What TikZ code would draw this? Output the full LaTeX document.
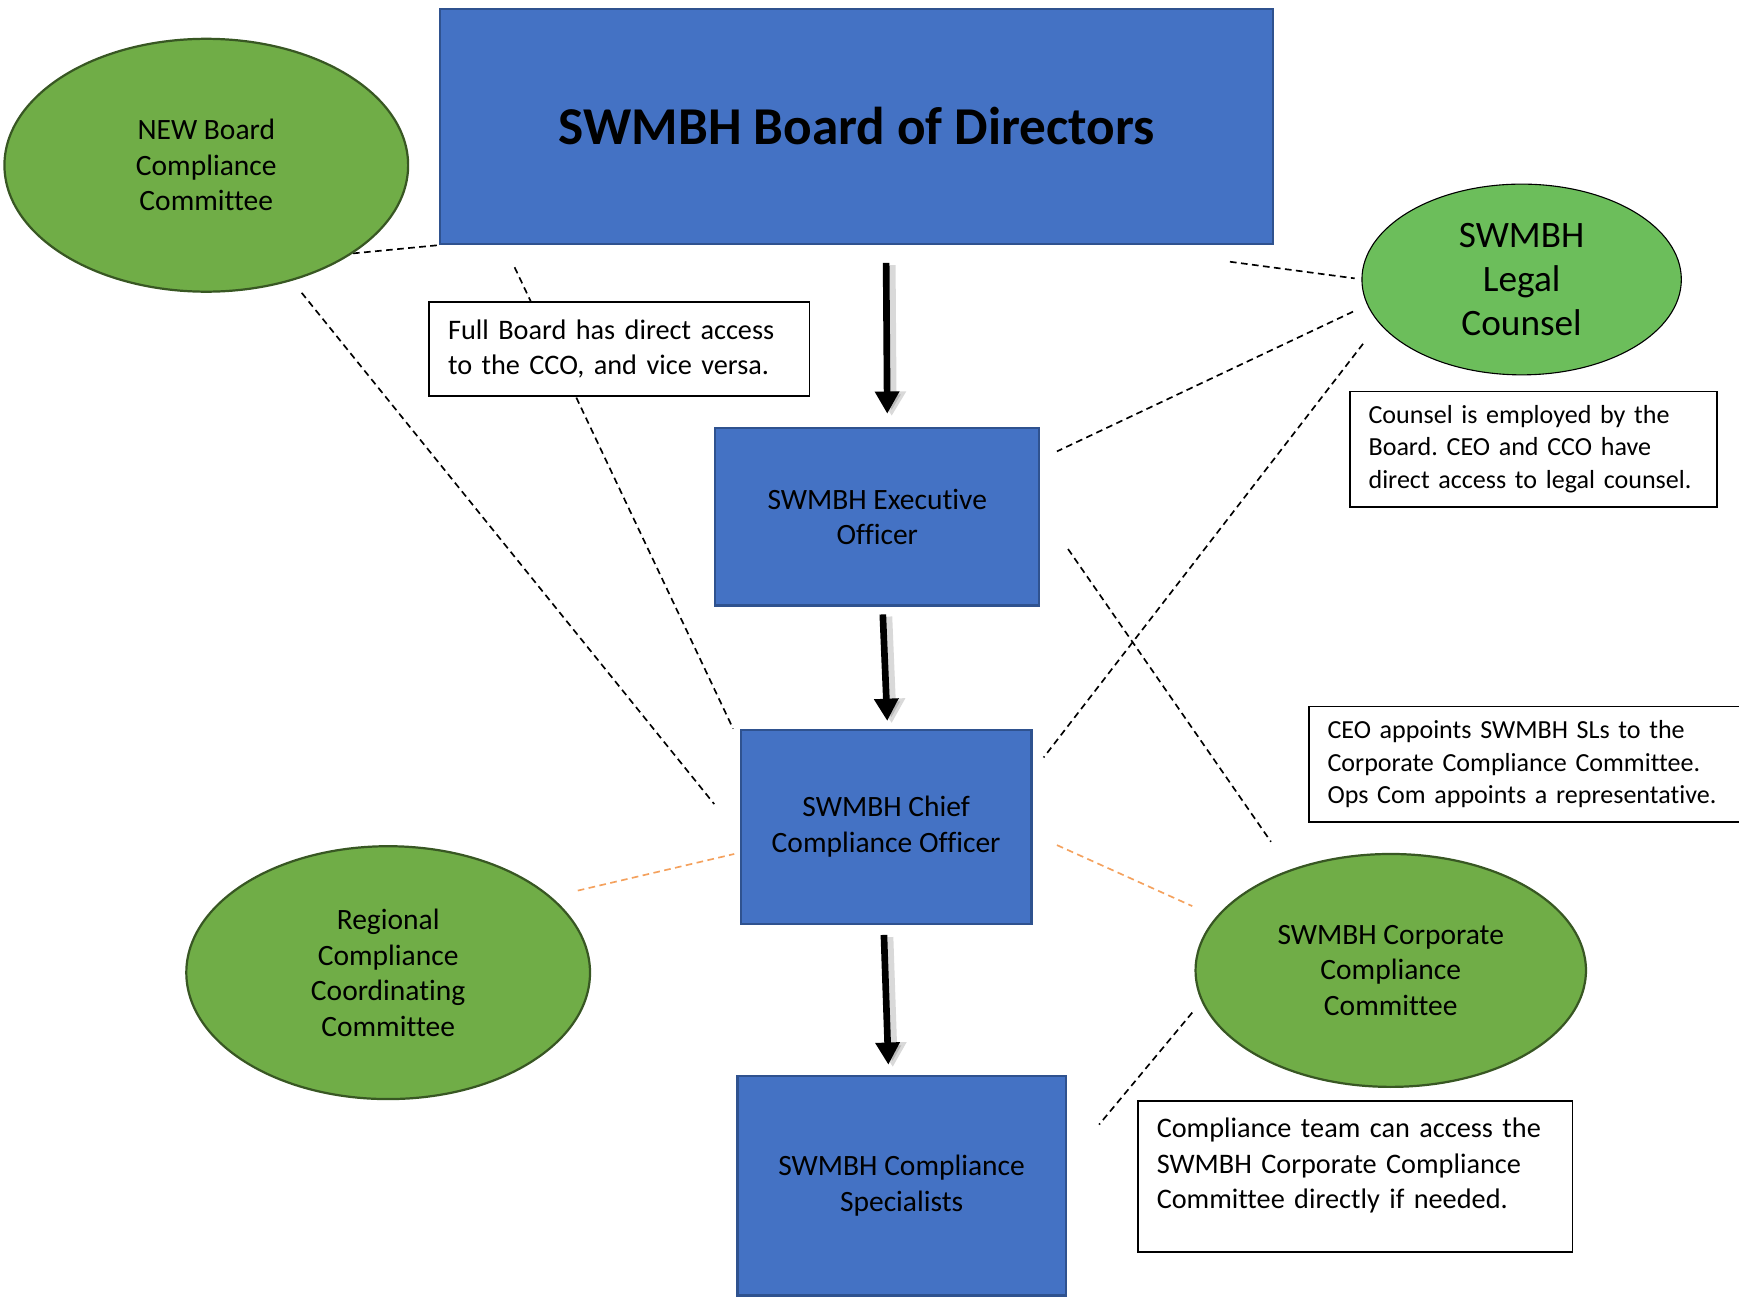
\documentclass[tikz,border=0pt]{standalone}
\usepackage{fontspec}
\setmainfont{Carlito}[Ligatures={NoCommon}]
\usetikzlibrary{shapes.geometric,arrows.meta,calc}
\pgfdeclarelayer{background}
\pgfsetlayers{background,main}
\definecolor{boxblue}{HTML}{4472C4}
\definecolor{boxedge}{HTML}{2F528F}
\definecolor{grn}{HTML}{70AD47}
\definecolor{grnedge}{HTML}{385723}
\definecolor{legalgrn}{HTML}{6CBE5B}
\definecolor{linkorange}{HTML}{F4A15D}
\tikzset{
  txt/.style={font=\fontsize{26.6}{32}\selectfont},
  notetxt/.style={font=\fontsize{25.5}{32}\selectfont},
  smalltxt/.style={font=\fontsize{23.5}{29}\selectfont},
  bluebox/.style={txt, rectangle, draw=boxedge, fill=boxblue, line width=2pt, align=center, inner sep=0pt},
  greenell/.style={txt, ellipse, draw=grnedge, fill=grn, line width=2pt, inner sep=0pt, align=center},
  notebox/.style={rectangle, draw=black, fill=white, line width=1.5pt, align=left, inner xsep=17pt, inner ysep=0pt},
  link/.style={draw=black, line width=1.5pt, dash pattern=on 6pt off 4pt},
  orangelink/.style={link, draw=linkorange},
  flow/.style={draw=black, line width=6pt, -{Triangle[width=21pt,length=20pt]}},
  flowshadow/.style={flow, draw=black, opacity=0.15, line width=9pt, -{Triangle[width=25pt,length=22pt]}}
}
\frenchspacing
\begin{document}
\begin{tikzpicture}[x=1pt,y=-1pt]
\useasboundingbox (0,0) rectangle (1568,1170);

% main boxes
\node[bluebox, minimum width=751pt, minimum height=212pt, font=\fontsize{48}{56}\selectfont\bfseries] (board) at (772.5,114) {SWMBH Board of Directors};
\node[bluebox, minimum width=292pt, minimum height=160pt] (exec) at (791,466) {SWMBH Executive\\Officer};
\node[bluebox, minimum width=262pt, minimum height=175pt] (cco) at (799,745.5) {SWMBH Chief\\Compliance Officer};
\node[bluebox, minimum width=296pt, minimum height=198pt] (spec) at (813,1069) {SWMBH Compliance\\Specialists};

% ellipses
\node[greenell, minimum width=364pt, minimum height=228pt] (newb) at (186,149) {NEW Board\\Compliance\\Committee};
\node[greenell, fill=legalgrn, draw=black, line width=1pt, minimum width=288pt, minimum height=172pt, font=\fontsize{33.6}{40}\selectfont] (legal) at (1372,252) {SWMBH\\Legal\\Counsel};
\node[greenell, minimum width=364pt, minimum height=228pt] (reg) at (350,877) {Regional\\Compliance\\Coordinating\\Committee};
\node[greenell, minimum width=352pt, minimum height=210pt] (corp) at (1254,875) {SWMBH Corporate\\Compliance\\Committee};

% note boxes
\node[notebox, notetxt, text width=309pt, minimum height=85pt] (fbnote) at (558.5,314.5) {\mbox{Full Board has direct access}\\\mbox{to the CCO, and vice versa.}};
\node[notebox, smalltxt, text width=297pt, minimum height=104pt] (counselnote) at (1382.5,405) {\mbox{Counsel is employed by the}\\\mbox{Board. CEO and CCO have}\\\mbox{direct access to legal counsel.}};
\node[notebox, smalltxt, text width=366pt, minimum height=104pt] (ceonote) at (1380,689) {\mbox{CEO appoints SWMBH SLs to the}\\\mbox{Corporate Compliance Committee.}\\\mbox{Ops Com appoints a representative.}};
\node[notebox, text width=358pt, minimum height=136pt] (teamnote) at (1222,1061) {};
\node[notetxt, align=left, text width=358pt, inner sep=0pt] (teamtext) at ($(teamnote.center)+(0,-10)$) {\mbox{Compliance team can access the}\\\mbox{SWMBH Corporate Compliance}\\\mbox{Committee directly if needed.}};

% dashed connectors
\begin{pgfonlayer}{background}
\draw[link] (newb.-31.6) -- (board.south west);
\draw[link] ($(board.south west)+(68,20)$) -- ($(cco.north west)+(-6,0)$);
\draw[link] ($(newb.center)+(86,115)$) -- ($(cco.north west)+(-23,68)$);
\draw[link] ($(board.south east)+(-40,15)$) -- ($(legal.west)+(-6,-1)$);
\draw[link] ($(legal.center)+(-152,29)$) -- ($(exec.north east)+(15,22)$);
\draw[link] ($(legal.center)+(-143,58)$) -- ($(cco.north east)+(10,26)$);
\draw[link] ($(exec.east)+(25,29)$) -- ($(corp.center)+(-108,-116)$);
\draw[orangelink] ($(reg.center)+(171,-74)$) -- ($(cco.west)+(-5,24.5)$);
\draw[orangelink] ($(cco.east)+(22,16.5)$) -- ($(corp.center)+(-179,-58)$);
\draw[link] ($(corp.center)+(-179,38)$) -- ($(spec.north east)+(29,45)$);
\end{pgfonlayer}

% thick arrows
\coordinate (a1s) at ($(board.south)+(26.5,16)$);
\coordinate (a1e) at ($(exec.north)+(9,-12)$);
\coordinate (a2s) at ($(exec.south)+(5,7)$);
\coordinate (a2e) at ($(cco.north)+(1,-7)$);
\coordinate (a3s) at ($(cco.south)+(-2,9)$);
\coordinate (a3e) at ($(spec.north)+(-12,-9)$);
\draw[flowshadow] ($(a1s)+(4,2)$) -- ($(a1e)+(4,2)$);
\draw[flowshadow] ($(a2s)+(4,2)$) -- ($(a2e)+(4,2)$);
\draw[flowshadow] ($(a3s)+(4,2)$) -- ($(a3e)+(4,2)$);
\draw[flow] (a1s) -- (a1e);
\draw[flow] (a2s) -- (a2e);
\draw[flow] (a3s) -- (a3e);
\end{tikzpicture}
\end{document}
